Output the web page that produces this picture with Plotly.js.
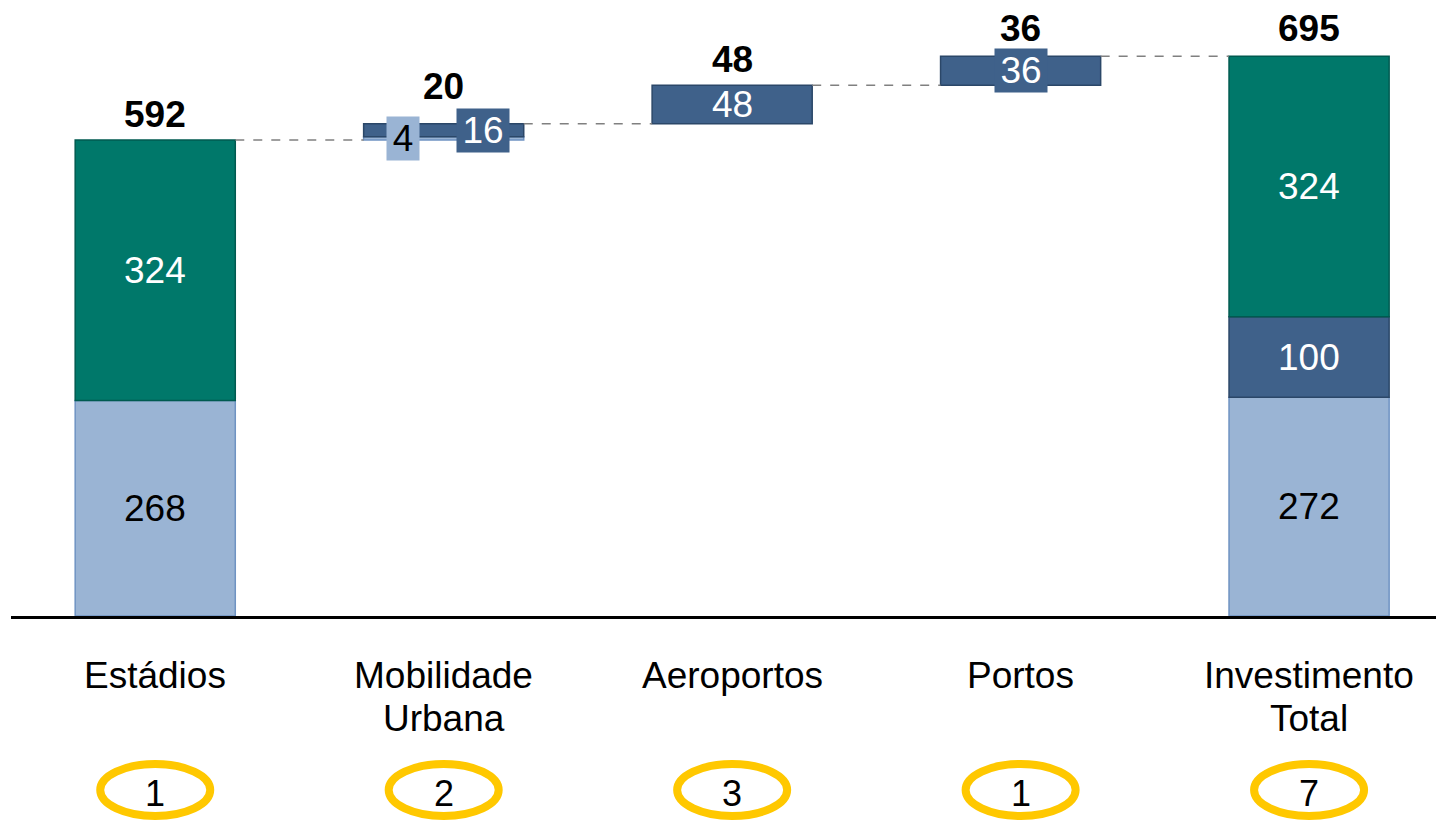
<!DOCTYPE html>
<html>
<head>
<meta charset="utf-8">
<script src="https://cdn.plot.ly/plotly-3.0.1.min.js"></script>
<style>html,body{margin:0;padding:0;background:#fff;}#chart{width:1436px;height:820px;}</style>
</head>
<body>
<div id="chart"></div>
<script>
// ---- data ----
const categories = ['Estádios', 'Mobilidade<br>Urbana', 'Aeroportos', 'Portos', 'Investimento<br>Total'];
const projectCounts = [1, 2, 3, 1, 7];
const lightValues = [268, 4, null, null, 272];   // light blue segment
const darkValues  = [null, 16, 48, 36, 100];     // dark blue segment
const tealValues  = [324, null, null, null, 324]; // teal segment
const totalLabels = [592, 20, 48, 36, 695];

// ---- styles ----
const FONT = 'Liberation Sans, Arial, sans-serif';
const C_LIGHT = '#9AB4D4', C_LIGHT_EDGE = '#6F93C2';
const C_DARK = '#3F618A', C_DARK_EDGE = '#2B4768';
const C_TEAL = '#00786A', C_TEAL_EDGE = '#005A50';
const BAR_W = 0.555;
const labelXShift = {light: [0, -41, 0, 0, 0], dark: [0, 39, 0, 0, 0], teal: [0, 0, 0, 0, 0]};
const totalYShift = [25, 37, 26, 28, 28];

// ---- compute waterfall bases ----
const n = categories.length;
const lightBase = [], darkBase = [], tealBase = [], tops = [];
let running = 0;
for (let i = 0; i < n; i++) {
  const isFirst = i === 0, isLast = i === n - 1;
  let b = (isFirst || isLast) ? 0 : running;
  lightBase.push(lightValues[i] != null ? b : null); if (lightValues[i] != null) b += lightValues[i];
  darkBase.push(darkValues[i] != null ? b : null);   if (darkValues[i] != null) b += darkValues[i];
  tealBase.push(tealValues[i] != null ? b : null);   if (tealValues[i] != null) b += tealValues[i];
  tops.push(b);
  running = b;
}
const xIdx = categories.map((_, i) => i);

function barTrace(vals, base, fill, edge) {
  return {type: 'bar', x: xIdx, y: vals, base: base, width: BAR_W,
    marker: {color: fill, line: {color: edge, width: 1.5}}, hoverinfo: 'skip', showlegend: false};
}
const traces = [
  barTrace(lightValues, lightBase, C_LIGHT, C_LIGHT_EDGE),
  barTrace(darkValues, darkBase, C_DARK, C_DARK_EDGE),
  barTrace(tealValues, tealBase, C_TEAL, C_TEAL_EDGE)
];

const annotations = [];
function segLabels(vals, base, color, fill, shifts) {
  vals.forEach((v, i) => {
    if (v == null) return;
    const small = v < 40;
    annotations.push({x: i, y: base[i] + v / 2, xref: 'x', yref: 'y', text: String(v), showarrow: false,
      xshift: shifts[i], yanchor: 'middle',
      font: {family: FONT, size: 37, color: color},
      bgcolor: small ? fill : 'rgba(0,0,0,0)', borderpad: small ? 1 : 0,
      width: small ? (String(v).length * 20 + 10) : null});
  });
}
segLabels(lightValues, lightBase, '#000000', C_LIGHT, labelXShift.light);
segLabels(darkValues, darkBase, '#FFFFFF', C_DARK, labelXShift.dark);
segLabels(tealValues, tealBase, '#FFFFFF', C_TEAL, labelXShift.teal);

// totals
totalLabels.forEach((t, i) => {
  annotations.push({x: i, y: tops[i], xref: 'x', yref: 'y', text: '<b>' + t + '</b>', showarrow: false,
    yanchor: 'middle', yshift: totalYShift[i], font: {family: FONT, size: 37, color: '#000'}});
});

// category labels and counts
const PLOT_H = 616;
const py = p => (PLOT_H - p) / PLOT_H;
const shapes = [];
categories.forEach((c, i) => {
  c.split('<br>').forEach((line, k) => {
    annotations.push({x: i, y: py(675 + 43 * k), xref: 'x', yref: 'paper', text: line, showarrow: false,
      yanchor: 'middle', align: 'center', font: {family: FONT, size: 37, color: '#000'}});
  });
  annotations.push({x: i, y: py(794), xref: 'x', yref: 'paper', text: String(projectCounts[i]), showarrow: false,
    yanchor: 'middle', font: {family: FONT, size: 36, color: '#000'}});
  shapes.push({type: 'circle', xref: 'x', yref: 'paper', xsizemode: 'pixel', ysizemode: 'pixel',
    xanchor: i, yanchor: py(790), x0: -55, x1: 55, y0: -26, y1: 26,
    line: {color: '#FFC800', width: 8}, fillcolor: 'rgba(0,0,0,0)'});
});

// dashed connectors
for (let i = 0; i < n - 1; i++) {
  shapes.push({type: 'line', xref: 'x', yref: 'y', x0: i + BAR_W / 2, x1: i + 1 - BAR_W / 2,
    y0: tops[i], y1: tops[i], line: {color: '#808080', width: 1.5, dash: 'dash'}});
}

const layout = {
  width: 1436, height: 820,
  margin: {l: 11, r: 0, t: 0, b: 204},
  paper_bgcolor: '#fff', plot_bgcolor: '#fff',
  barmode: 'overlay', bargap: 0,
  xaxis: {range: [-0.5, 4.44], showgrid: false, zeroline: false, showticklabels: false, ticks: '',
    showline: true, linecolor: '#000', linewidth: 2.5, fixedrange: true},
  yaxis: {range: [0, 766], visible: false, fixedrange: true},
  annotations: annotations,
  shapes: shapes,
  font: {family: FONT}
};

Plotly.newPlot('chart', traces, layout, {staticPlot: true, displayModeBar: false});
</script>
</body>
</html>
